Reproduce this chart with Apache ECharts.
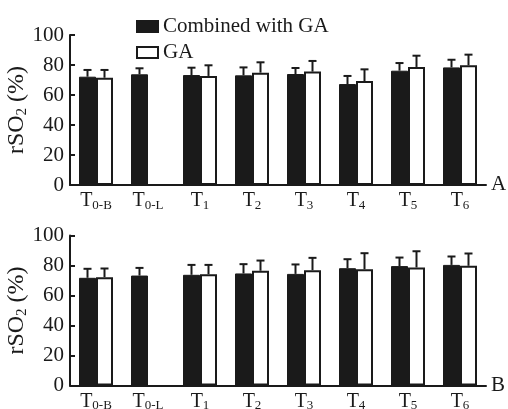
<!DOCTYPE html>
<html><head><meta charset="utf-8">
<style>html,body{margin:0;padding:0;background:#fff;}#c{width:508px;height:409px;}</style>
<script src="https://cdn.jsdelivr.net/npm/echarts@6/dist/echarts.min.js"></script>
</head><body><div id="c"></div>
<script>
var subs = ['0-B','0-L','1','2','3','4','5','6'];
var yTicks = [0,20,40,60,80,100];
// Panel A
var A_comb = [72.2, 73.8, 73.3, 73.1, 74.0, 67.3, 76.2, 78.4];
var A_combErr = [4.5, 4.0, 4.9, 5.3, 4.0, 5.4, 5.1, 5.1];
var A_ga = [71.5, null, 72.7, 74.9, 75.6, 69.3, 78.7, 79.8];
var A_gaErr = [5.2, null, 7.1, 6.9, 7.1, 7.8, 7.5, 7.1];
// Panel B
var B_comb = [71.8, 73.3, 73.8, 74.7, 74.4, 78.2, 79.6, 80.4];
var B_combErr = [6.0, 5.1, 6.6, 6.2, 6.3, 6.0, 5.7, 5.6];
var B_ga = [72.2, null, 74.2, 76.5, 76.9, 77.5, 78.7, 79.8];
var B_gaErr = [5.8, null, 6.2, 6.8, 8.2, 10.7, 10.8, 8.2];

var FONT = '"Liberation Serif","Times New Roman",serif';
var INK = '#1a1a1a';
var chart = echarts.init(document.getElementById('c'));

function xAxis(gi){
  return {type:'category', gridIndex:gi, data:subs, boundaryGap:true,
    axisLine:{lineStyle:{color:INK,width:2}}, axisTick:{show:false},
    axisLabel:{interval:0, margin:5, formatter:function(v){return '{t|T}{s|'+v+'}';},
      rich:{t:{fontFamily:FONT,fontSize:20,color:INK},s:{fontFamily:FONT,fontSize:13,color:INK,verticalAlign:'bottom',padding:[9,0,0,0]}}}};
}
function yAxis(gi){
  return {type:'value', gridIndex:gi, min:0, max:100, interval:20,
    name:'{a|rSO}{b|2}{a| (%)}', nameLocation:'middle', nameGap:40, nameRotate:90, nameMoveOverlap:false,
    nameTextStyle:{rich:{a:{fontFamily:FONT,fontSize:24,color:INK},b:{fontFamily:FONT,fontSize:15,color:INK,verticalAlign:'bottom',padding:[11,0,0,0]}}},
    axisLine:{show:true,lineStyle:{color:INK,width:2}}, axisTick:{show:true,inside:true,length:5,lineStyle:{color:INK,width:2}},
    splitLine:{show:false},
    axisLabel:{fontFamily:FONT,fontSize:21,color:INK,margin:6}};
}
function errSeries(gi, vals, errs, off, name){
  var d = vals.map(function(v,i){return v==null?null:[i, v, v+errs[i]];}).filter(function(x){return x;});
  return {type:'custom', xAxisIndex:gi, yAxisIndex:gi, z:1, silent:true, name:name,
    data:d, encode:{x:0,y:[1,2]},
    renderItem:function(params, api){
      var i = api.value(0);
      var p0 = api.coord([i, api.value(1)]);
      var p1 = api.coord([i, api.value(2)]);
      var x = p0[0] + off;
      return {type:'group', children:[
        {type:'line', shape:{x1:x,y1:p0[1],x2:x,y2:p1[1]}, style:{stroke:INK,lineWidth:2}},
        {type:'line', shape:{x1:x-4,y1:p1[1],x2:x+4,y2:p1[1]}, style:{stroke:INK,lineWidth:2}}
      ]};
    }};
}
function bars(gi, comb, ga){
  return [
    {name:'Combined with GA', type:'bar', xAxisIndex:gi, yAxisIndex:gi, data:comb, barWidth:17, barGap:'0%', z:2,
      itemStyle:{color:INK, borderColor:INK, borderWidth:1}},
    {name:'GA', type:'bar', xAxisIndex:gi, yAxisIndex:gi, data:ga, barWidth:17, barGap:'0%', z:2,
      itemStyle:{color:'#fff', borderColor:INK, borderWidth:2}}
  ];
}
chart.setOption({
  animation:false,
  backgroundColor:'#fff',
  legend:{left:131, top:11, orient:'vertical', itemGap:5, itemWidth:21, itemHeight:11,
    textStyle:{fontFamily:FONT,fontSize:21,color:INK},
    data:[{name:'Combined with GA',icon:'rect'},{name:'GA',icon:'rect',itemStyle:{color:'#fff',borderColor:INK,borderWidth:2}}]},
  grid:[{left:70,right:22,top:35,height:150,containLabel:false,outerBoundsMode:'none'},
        {left:70,right:22,top:235.5,height:150,containLabel:false,outerBoundsMode:'none'}],
  xAxis:[xAxis(0),xAxis(1)],
  yAxis:[yAxis(0),yAxis(1)],
  graphic:[
    {type:'text',left:491,top:174,style:{text:'A',font:'21px '+FONT,fill:INK}},
    {type:'text',left:491,top:375,style:{text:'B',font:'21px '+FONT,fill:INK}}
  ],
  series:[].concat(bars(0,A_comb,A_ga), bars(1,B_comb,B_ga),
    [errSeries(0,A_comb,A_combErr,-8.5,'eA1'), errSeries(0,A_ga,A_gaErr,8.5,'eA2'),
     errSeries(1,B_comb,B_combErr,-8.5,'eB1'), errSeries(1,B_ga,B_gaErr,8.5,'eB2')])
});
</script></body></html>
